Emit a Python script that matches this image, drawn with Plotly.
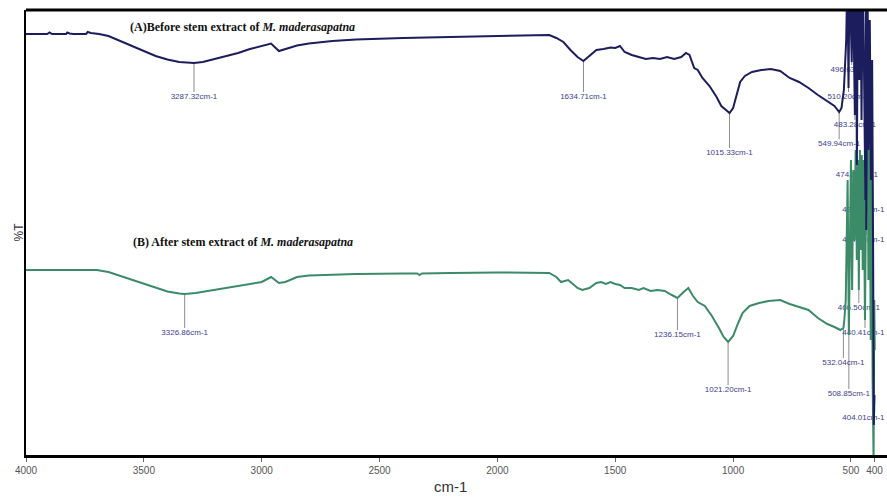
import numpy as np
import plotly.graph_objects as go

# ---------------- data ----------------
wn_A = [4000, 3910, 3900, 3890, 3830, 3825, 3815, 3800, 3745, 3738, 3725, 3690, 3650, 3600, 3550, 3500,
        3450, 3400, 3350, 3287, 3250, 3200, 3150, 3100, 3050, 3000, 2960, 2927, 2900, 2870, 2850, 2800,
        2700, 2600, 2500, 2400, 2300, 2200, 2100, 2000, 1900, 1780, 1750, 1720, 1690, 1660, 1635, 1610,
        1580, 1550, 1520, 1500, 1480, 1460, 1430, 1400, 1370, 1340, 1310, 1280, 1250, 1220, 1200, 1185,
        1165, 1150, 1130, 1100, 1070, 1050, 1015, 1000, 985, 970, 950, 920, 880, 840, 800, 760, 720,
        680, 640, 600, 570, 550, 540, 530, 520, 515, 510.2, 506, 500, 496.6, 492, 487, 483.28, 480, 477,
        474.84, 470, 465, 460, 455, 450, 445, 438.6, 436, 434.9, 430, 425, 420, 415, 410, 406, 403, 400]
t_A = [84.2, 84.2, 84.5, 84.2, 84.2, 84.5, 84.3, 84.2, 84.2, 84.6, 84.4, 84.2, 83.8, 82.8, 81.8, 80.8,
       79.8, 79.1, 78.6, 78.4, 78.6, 79.2, 79.8, 80.4, 81.2, 81.8, 82.3, 80.8, 81.2, 81.6, 81.9, 82.3,
       82.8, 83.1, 83.3, 83.4, 83.5, 83.6, 83.7, 83.8, 83.9, 84.0, 83.4, 82.6, 81.0, 79.6, 78.8, 79.8,
       81.0, 81.2, 81.5, 81.4, 81.8, 80.6, 80.0, 79.6, 79.2, 79.4, 79.2, 79.6, 79.2, 79.6, 80.4, 80.0,
       77.4, 77.0, 75.4, 73.8, 71.6, 69.8, 68.4, 69.4, 72.0, 74.6, 75.8, 76.6, 77.0, 77.2, 76.8, 75.4, 74.6,
       73.4, 72.0, 70.8, 69.8, 68.6, 69.4, 73.0, 83.0, 97.0, 73.4, 97.0, 87.0, 78.6, 97.0, 83.0, 68.0, 97.0, 85.0,
       58.0, 97.0, 75.0, 97.0, 67.0, 97.0, 79.0, 51.0, 97.0, 45.0, 97.0, 61.0, 87.0, 55.0, 79.0, 41.0, 6.0, 12.0]

wn_B = [4000, 3700, 3650, 3600, 3550, 3500, 3450, 3400, 3350, 3327, 3280, 3200, 3100, 3000, 2960, 2927,
        2900, 2870, 2850, 2800, 2700, 2600, 2400, 2340, 2330, 2320, 2200, 2000, 1780, 1750, 1730, 1700,
        1660, 1640, 1610, 1580, 1560, 1540, 1520, 1500, 1480, 1460, 1430, 1400, 1380, 1350, 1320, 1290,
        1260, 1236, 1210, 1190, 1170, 1150, 1120, 1090, 1060, 1040, 1021, 1000, 980, 960, 930, 890, 850,
        800, 760, 720, 680, 640, 600, 570, 545, 532, 528, 522, 518, 514, 508.85, 504, 500, 495, 490, 485,
        480, 475, 470, 466.5, 462, 458, 454, 450, 446, 440.41, 436, 430, 426, 421, 416, 412, 408, 404, 401, 399]
t_B = [37.0, 37.0, 36.6, 35.8, 35.0, 34.2, 33.4, 32.7, 32.3, 32.2, 32.4, 33.0, 33.8, 34.6, 35.6, 34.4,
       34.6, 35.2, 35.6, 35.9, 36.1, 36.2, 36.3, 36.3, 36.0, 36.3, 36.4, 36.5, 36.4, 35.6, 34.6, 35.0,
       33.4, 33.0, 33.4, 34.4, 34.6, 34.2, 34.6, 34.2, 34.0, 33.4, 33.4, 33.0, 33.4, 32.8, 33.0, 32.8,
       32.0, 31.4, 32.6, 33.4, 31.8, 30.6, 29.8, 27.8, 25.4, 23.6, 22.6, 23.8, 26.2, 28.4, 29.8, 30.4, 30.8,
       31.0, 30.2, 29.6, 29.0, 27.4, 26.2, 25.6, 25.0, 25.4, 27.0, 31.0, 43.0, 55.0, 24.0, 51.0, 59.0, 33.0, 57.0, 43.0,
       61.0, 39.0, 59.0, 33.0, 61.0, 41.0, 60.0, 37.0, 59.0, 27.0, 57.0, 85.0, 35.0, 61.0, 23.0, 55.0, 15.0, -1.0, 31.0, 21.0]

peaks_A = [3287.32, 1634.71, 1015.33, 549.94, 510.20, 496.63, 483.28, 474.84, 438.64, 434.92]
peaks_B = [3326.86, 1236.15, 1021.20, 532.04, 508.85, 466.50, 440.41, 404.01]

tick_vals = [4000, 3500, 3000, 2500, 2000, 1500, 1000, 500, 400]
tick_text = ["4000", "3500", "3000", "2500", "2000", "1500", "1000", "500", "400"]

label_A = "<b>(A)Before stem extract of <i>M. maderasapatna</i></b>"
label_B = "<b>(B) After stem extract of <i>M. maderasapatna</i></b>"

# label vertical placement (layout, %T units)
lab_y_A = [71.6, 71.6, 60.4, 62.2, 71.6, 77.0, 66.0, 56.0, 49.0, 43.0]
lab_y_B = [24.4, 24.0, 13.0, 18.4, 12.2, 29.4, 24.4, 7.4]
LAB_EDGE = 447  # keep label text inside the right edge

NAVY = "#1c1d5c"
GREEN = "#3b8a68"
LABC = "#3d3d8c"

fig = go.Figure()


def add_labels(peaks, laby, wn, t):
    xs_a, ys_a = np.array(wn[::-1], float), np.array(t[::-1], float)
    lx, ly = [], []
    for p, yl in zip(peaks, laby):
        pv = float(np.interp(p, xs_a, ys_a))
        top = yl + 1.0
        if pv > top:
            lx += [p, p, None]
            ly += [pv, top, None]
    fig.add_trace(go.Scatter(x=lx, y=ly, mode="lines", line=dict(color="#8c8c8c", width=1),
                             hoverinfo="skip", showlegend=False))
    fig.add_trace(go.Scatter(x=[max(p, LAB_EDGE) for p in peaks], y=laby, mode="text",
                             text=[f"{p:.2f}cm-1" for p in peaks],
                             textfont=dict(family="Liberation Sans, Arial", size=8, color=LABC),
                             textposition="middle center", hoverinfo="skip", showlegend=False))


add_labels(peaks_A, lab_y_A, wn_A, t_A)
add_labels(peaks_B, lab_y_B, wn_B, t_B)

fig.add_trace(go.Scatter(x=wn_B, y=t_B, mode="lines", line=dict(color=GREEN, width=2),
                         showlegend=False))
fig.add_trace(go.Scatter(x=wn_A, y=t_A, mode="lines", line=dict(color=NAVY, width=2),
                         showlegend=False))

fig.add_annotation(x=3567, y=85.6, xref="x", yref="y", text=label_A, showarrow=False,
                   xanchor="left", yanchor="middle",
                   font=dict(family="Liberation Serif", size=12, color="#111111"))
fig.add_annotation(x=3555, y=42.6, xref="x", yref="y", text=label_B, showarrow=False,
                   xanchor="left", yanchor="middle",
                   font=dict(family="Liberation Serif", size=12, color="#111111"))

fig.add_annotation(x=-8 / 861, y=0.5, xref="paper", yref="paper", text="%T", showarrow=False,
                   textangle=-90, xanchor="center", yanchor="middle",
                   font=dict(family="Liberation Sans", size=12, color="#333333"))
fig.add_annotation(x=(450 - 26) / 861, y=-31 / 445, xref="paper", yref="paper", text="cm-1",
                   showarrow=False, xanchor="center", yanchor="middle",
                   font=dict(family="Liberation Sans Narrow, Liberation Sans", size=15, color="#333333"))

fig.add_shape(type="line", xref="paper", yref="paper", x0=0, x1=1, y0=1, y1=1,
              line=dict(color="black", width=3))

fig.update_layout(
    width=887, height=499,
    margin=dict(l=26, r=0, t=10, b=44),
    paper_bgcolor="white", plot_bgcolor="white",
    xaxis=dict(range=[4000, 347], tickvals=tick_vals, ticktext=tick_text,
               showgrid=False, zeroline=False, showline=True, linecolor="black", linewidth=3,
               ticks="outside", ticklen=4, tickcolor="#666666", tickwidth=1,
               tickfont=dict(family="Liberation Sans Narrow, Liberation Sans", size=10, color="#555555")),
    yaxis=dict(range=[0, 89], showticklabels=False, ticks="", showgrid=False, zeroline=False,
               showline=True, linecolor="black", linewidth=2),
)

fig.write_html("out.html")
